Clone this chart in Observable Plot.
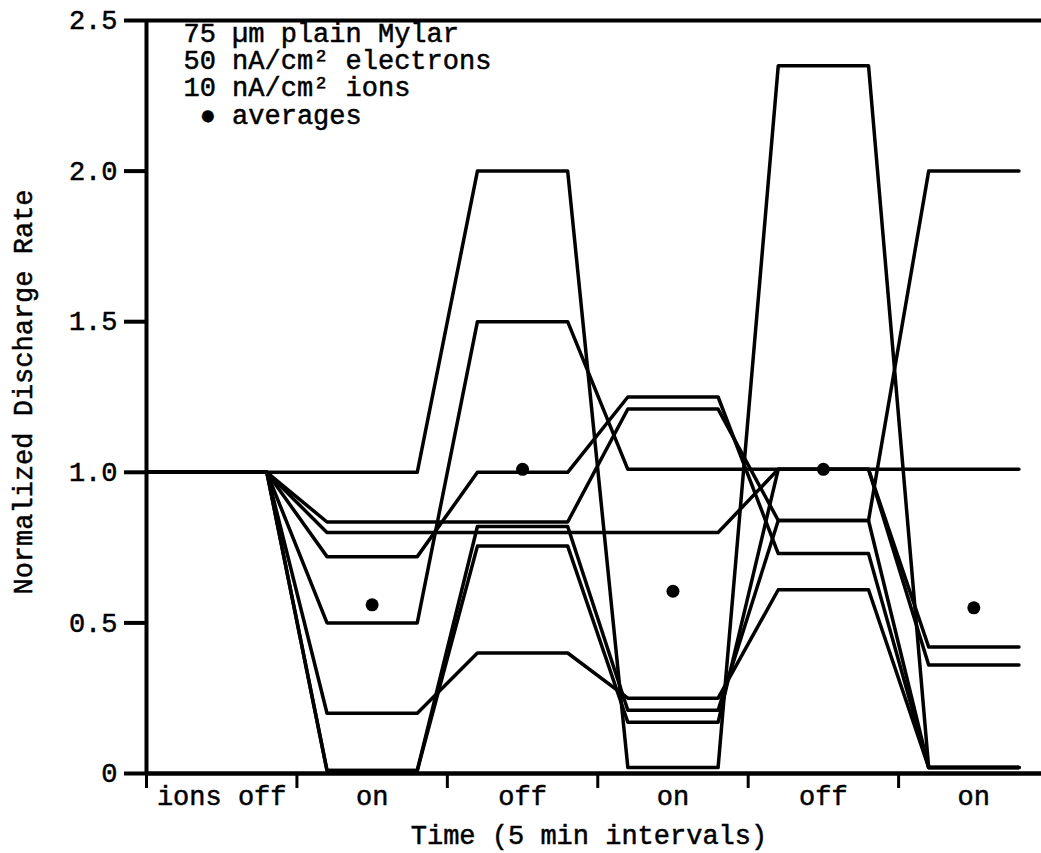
<!DOCTYPE html>
<html><head><meta charset="utf-8">
<script src="https://cdn.jsdelivr.net/npm/d3@7"></script>
<script src="https://cdn.jsdelivr.net/npm/@observablehq/plot@0.6"></script>
<style>
body{margin:0;background:#fff;}
svg text{stroke:#000;stroke-width:0.5px;}
</style>
</head><body><div id="chart"></div>
<script>
// Interval categories (x axis) and flat-segment extents within each interval (interval units)
const intervalLabels = ["ions off", "on", "off", "on", "off", "on"];
const intervalIndex = [0, 1, 2, 3, 4, 5];
const flatStart = [0, 1.2, 2.2, 3.2, 4.2, 5.2];
const flatEnd   = [0.8, 1.8, 2.8, 3.8, 4.8, 5.8];

// Normalized discharge rate of each sample, one value per interval
const seriesA = [1.0, 1.0,   2.0,   0.02, 2.35, 0.02];
const seriesB = [1.0, 0.835, 0.835, 1.21, 0.84, 0.02];
const seriesC = [1.0, 0.80,  0.80,  0.80, 1.01, 0.42];
const seriesD = [1.0, 0.72,  1.0,   1.25, 0.73, 0.02];
const seriesE = [1.0, 0.50,  1.5,   1.01, 1.01, 1.01];
const seriesF = [1.0, 0.20,  0.40,  0.25, 0.61, 0.02];
const seriesG = [1.0, 0.01,  0.82,  0.21, 0.84, 2.0];
const seriesH = [1.0, 0.01,  0.755, 0.17, 1.01, 0.36];

// Averages (dots)
const avgInterval = [1, 2, 3, 4, 5];
const avgValues = [0.56, 1.01, 0.605, 1.01, 0.55];

// Y ticks
const yTicks = [0, 0.5, 1.0, 1.5, 2.0, 2.5];
const yTickLabels = ["0", "0.5", "1.0", "1.5", "2.0", "2.5"];

const legendLines = ["75 µm plain Mylar", "50 nA/cm² electrons", "10 nA/cm² ions", " ● averages"];
const xTitle = "Time (5 min intervals)";
const yTitle = "Normalized Discharge Rate";

const series = {A: seriesA, B: seriesB, C: seriesC, D: seriesD, E: seriesE, F: seriesF, G: seriesG, H: seriesH};
const lineData = [];
for (const [name, vals] of Object.entries(series)) {
  intervalIndex.forEach((i) => {
    lineData.push({s: name, x: flatStart[i], y: vals[i]});
    lineData.push({s: name, x: flatEnd[i], y: vals[i]});
  });
}
const avgData = avgInterval.map((k, j) => ({x: k + 0.5, y: avgValues[j]}));

const chart = Plot.plot({
  width: 1041,
  height: 853,
  marginLeft: 146,
  marginRight: 0,
  marginTop: 20,
  marginBottom: 80,
  style: {fontFamily: "Liberation Mono", fontSize: "27px", background: "#fff", color: "#000"},
  x: {domain: [0, 5.95]},
  y: {domain: [0, 2.5]},
  marks: [
    Plot.axisY({ticks: yTicks, tickFormat: (d, i) => yTickLabels[i], tickSize: 22, tickPadding: 7, strokeWidth: 4, label: null}),
    Plot.axisX({ticks: intervalIndex, tickSize: 15, tickFormat: () => "", strokeWidth: 3, label: null}),
    Plot.axisX({ticks: intervalIndex.map(i => i + 0.5), tickSize: 0, tickPadding: 12, tickFormat: (d, i) => intervalLabels[i], label: null}),
    Plot.ruleX([0], {strokeWidth: 4}),
    Plot.ruleY([0], {strokeWidth: 4.5}),
    Plot.ruleY([2.5], {strokeWidth: 4}),
    Plot.line(lineData, {x: "x", y: "y", z: "s", stroke: "black", strokeWidth: 3.5, strokeLinejoin: "round", strokeLinecap: "round"}),
    Plot.dot(avgData, {x: "x", y: "y", r: 6.5, fill: "black"}),
    Plot.text([legendLines.join("\n")], {frameAnchor: "top-left", textAnchor: "start", lineAnchor: "top", lineHeight: 1.01, dx: 37, dy: 2}),
    Plot.text([xTitle], {frameAnchor: "bottom", lineAnchor: "bottom", dy: 70, dx: -5}),
    Plot.text([yTitle], {frameAnchor: "left", textAnchor: "middle", rotate: -90, dx: -123, dy: -5})
  ]
});
document.getElementById("chart").appendChild(chart);
</script>
</body></html>
